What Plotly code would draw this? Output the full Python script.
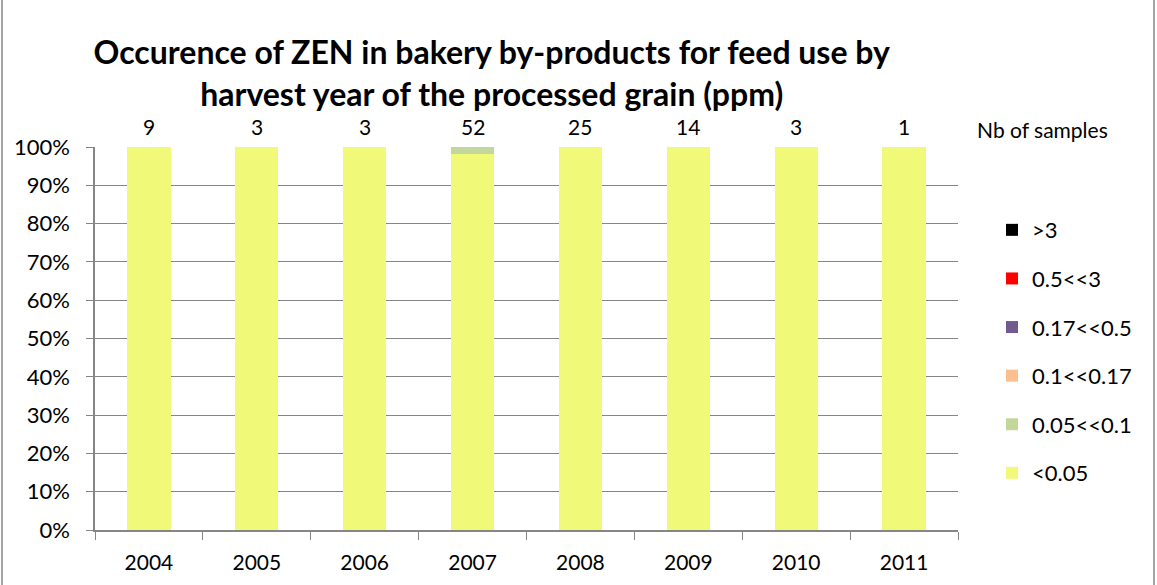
import plotly.graph_objects as go

years = ["2004", "2005", "2006", "2007", "2008", "2009", "2010", "2011"]
n_samples = [9, 3, 3, 52, 25, 14, 3, 1]
# counts per class
cls_lt005 = [9, 3, 3, 51, 25, 14, 3, 1]
cls_005_01 = [0, 0, 0, 1, 0, 0, 0, 0]
cls_01_017 = [0, 0, 0, 0, 0, 0, 0, 0]
cls_017_05 = [0, 0, 0, 0, 0, 0, 0, 0]
cls_05_3 = [0, 0, 0, 0, 0, 0, 0, 0]
cls_gt3 = [0, 0, 0, 0, 0, 0, 0, 0]

series = [
    ("<0.05", cls_lt005, "#F0FA78"),
    ("0.05<<0.1", cls_005_01, "#C4D79B"),
    ("0.1<<0.17", cls_01_017, "#FABF8F"),
    ("0.17<<0.5", cls_017_05, "#725A91"),
    ("0.5<<3", cls_05_3, "#FF0000"),
    (">3", cls_gt3, "#000000"),
]

FONT = "Lato"
fig = go.Figure()
for i, (name, vals, col) in enumerate(series):
    pct = [100.0 * v / n for v, n in zip(vals, n_samples)]
    fig.add_trace(go.Bar(
        x=years, y=pct, name=name, marker=dict(color=col, line=dict(width=0)),
        width=0.4, legendgroup=str(i), legendrank=100 - i,
    ))

annotations = []
for idx, n in enumerate(n_samples):
    annotations.append(dict(x=idx, y=1, yref="paper", xref="x", text=str(n), showarrow=False,
                            yanchor="bottom", yshift=6, font=dict(size=21, color="#000", family=FONT)))
annotations.append(dict(x=1.02, xref="paper", y=1, yref="paper", text="Nb of samples", showarrow=False,
                        xanchor="left", yanchor="bottom", yshift=3,
                        font=dict(size=21, color="#000", family=FONT)))

fig.update_layout(
    barmode="stack",
    width=1157, height=585,
    margin=dict(l=95, r=199, t=147, b=55, autoexpand=False),
    paper_bgcolor="white", plot_bgcolor="white",
    font=dict(family=FONT, color="#000"),
    title=dict(text="<b>Occurence of ZEN in bakery by-products for feed use by<br>harvest year of the processed grain (ppm)</b>",
               x=0.425, xanchor="center", y=0.89, yanchor="top",
               font=dict(size=32, family=FONT, color="#000")),
    legend=dict(x=1 + 34/863, xanchor="left", y=0.838, yanchor="top",
                traceorder="grouped", tracegroupgap=17,
                font=dict(size=22, family=FONT, color="#000"), itemwidth=30),
    xaxis=dict(type="category", range=[-0.5, 7.5], autorange=False, showline=True, linecolor="#868686",
               linewidth=1.5, ticks="outside", tickson="boundaries", ticklen=8, tickcolor="#868686",
               tickfont=dict(size=21, family=FONT), ticklabelstandoff=13, tickangle=0),
    yaxis=dict(range=[0, 100], autorange=False, dtick=10, ticksuffix="%", showline=True, linecolor="#868686",
               linewidth=1.5, ticks="outside", ticklen=7, tickcolor="#868686", showgrid=True,
               gridcolor="#868686", gridwidth=1, tickfont=dict(size=22, family=FONT),
               ticklabelstandoff=12, zeroline=False),
    annotations=annotations,
    shapes=[dict(type="rect", xref="paper", yref="paper", x0=-93/863, x1=(1154-95)/863,
                 y0=-60/383, y1=1.4, line=dict(color="#868686", width=1.5), layer="above")],
)

fig.write_html("out.html", config={"displayModeBar": False},
               post_script="document.body.style.margin='0';document.body.style.overflow='hidden';")
